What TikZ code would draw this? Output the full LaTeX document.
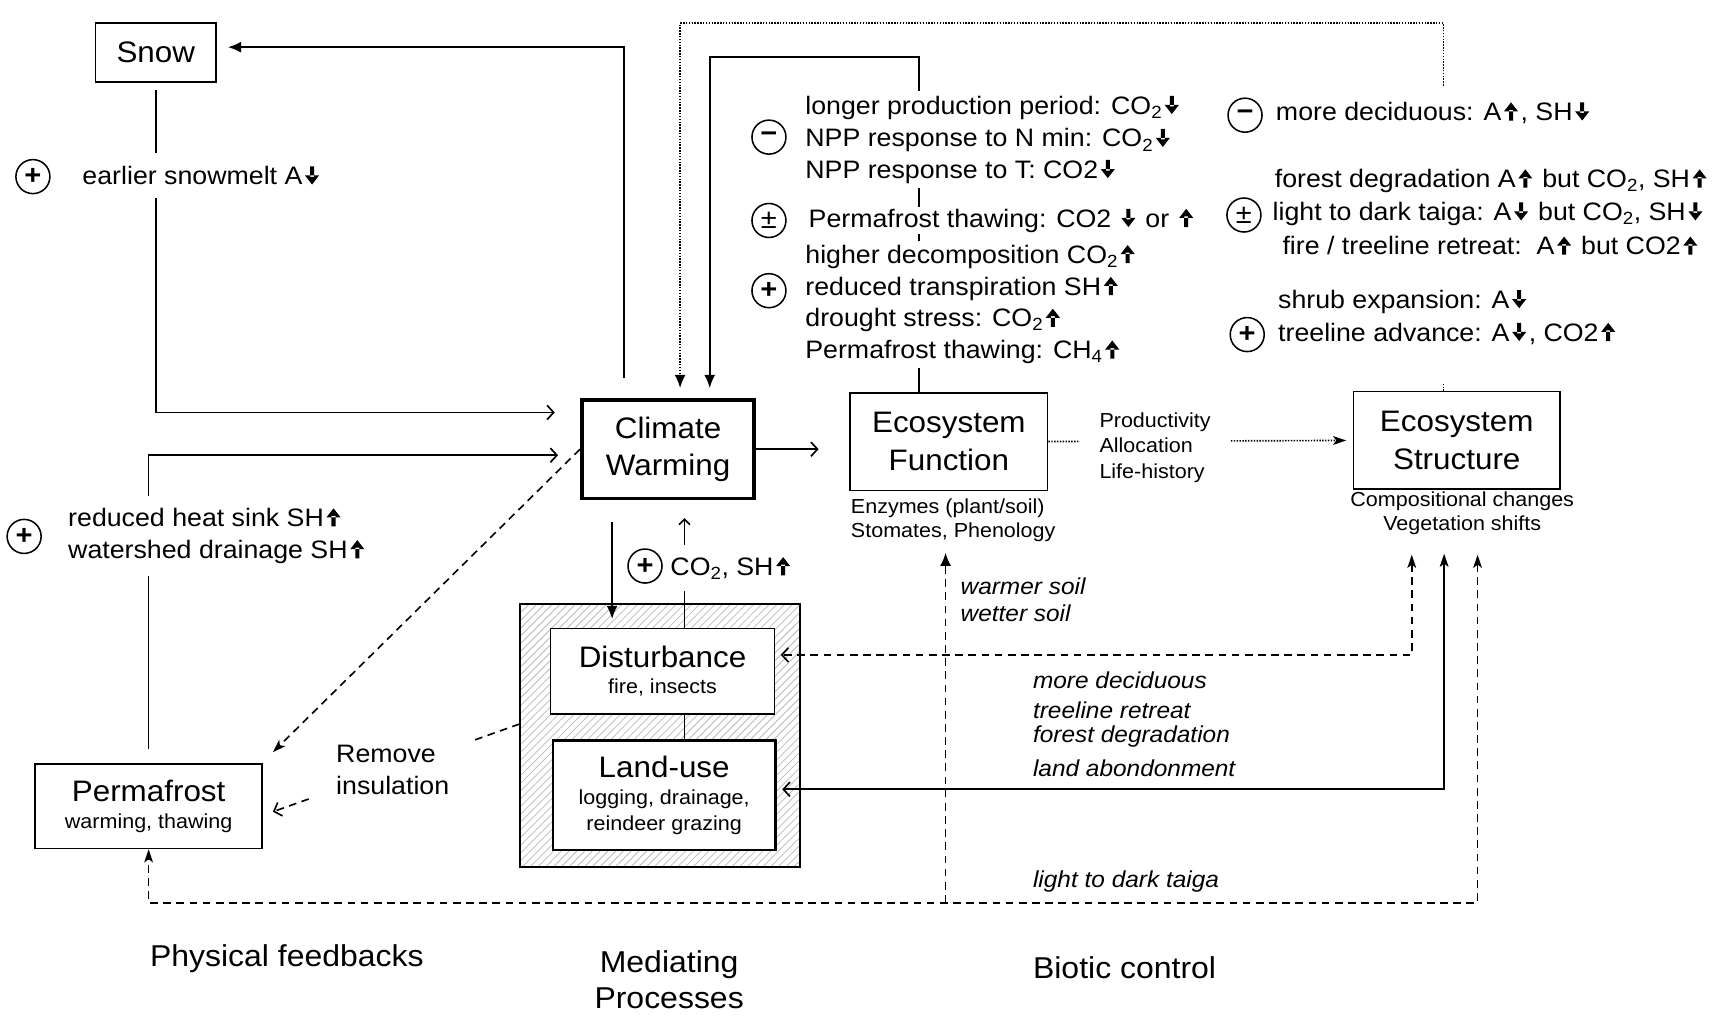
\documentclass[tikz,border=0pt]{standalone}
\usepackage{fontspec}
\setmainfont{Liberation Sans}[FakeStretch=1.06]
\usetikzlibrary{arrows.meta,patterns.meta}
\newcommand\arU{\kern0.1em\tikz[baseline=0pt,x=1em,y=1em]\fill[black] (-0.08,0) rectangle (0.08,0.42) (-0.28,0.36) -- (0.28,0.36) -- (0,0.72) -- cycle;\kern0.1em}
\newcommand\arD{\kern0.1em\tikz[baseline=0pt,x=1em,y=1em]\fill[black] (-0.08,0.72) rectangle (0.08,0.3) (-0.28,0.36) -- (0.28,0.36) -- (0,0) -- cycle;\kern0.1em}
\newcommand\sub[1]{\textsubscript{#1}}
\newcommand\smf{\fontsize{18.5}{23}\selectfont}
\tikzset{
  box/.style={draw, line width=1.5pt, inner sep=0pt, align=center, fill=white},
  big/.style={font=\fontsize{27}{34}\selectfont},
  txt/.style={font=\fontsize{23}{29}\selectfont, inner sep=2pt, align=left},
  wtxt/.style={txt, fill=white, inner ysep=4pt},
  sml/.style={font=\fontsize{18.5}{22}\selectfont, inner sep=1pt},
  itx/.style={font=\fontsize{21}{25}\selectfont\itshape, inner sep=1pt, align=left},
  bot/.style={font=\fontsize{27.5}{33}\selectfont, inner sep=0pt, align=center},
  sign/.style={circle, draw, line width=1.4pt, minimum size=31pt, inner sep=0pt, font=\fontsize{25}{25}\selectfont\bfseries},
  arF/.style={-{Latex[length=12pt,width=10pt]}},
  arB/.style={-{Straight Barb[length=6pt,width=13pt]}},
  arSt/.style={-{Stealth[length=12pt,width=8pt,inset=3pt]}},
  dsh/.style={dash pattern=on 7pt off 5pt},
  dot/.style={dash pattern=on 1.3pt off 1.3pt},
}
\begin{document}
\begin{tikzpicture}[x=1pt, y=-1pt, line width=1.5pt, line cap=butt]
\useasboundingbox (0,0) rectangle (1568,927);

% boxes
\node[box, big, minimum width=110pt, minimum height=54pt] (snow) at (142,48) {Snow};
\node[box, big, line width=3.5pt, minimum width=157pt, minimum height=90pt] (cw) at (609,409.5) {Climate\\Warming};
\node[box, big, minimum width=180pt, minimum height=89pt] (ef) at (865,402.5) {Ecosystem\\Function};
\node[box, big, minimum width=188pt, minimum height=89pt] (es) at (1328,401.5) {Ecosystem\\Structure};
\node[draw, line width=1.7pt, minimum width=255pt, minimum height=239pt, inner sep=0pt,
      pattern={Lines[angle=45,distance=5pt,line width=0.7pt]}, pattern color=gray!55] (hatch) at (601.5,670.5) {};
\node[box, big, minimum width=204pt, minimum height=78pt] (dist) at (604,612) {Disturbance\\[-10pt]\smf fire, insects};
\node[box, big, line width=2.2pt, minimum width=203pt, minimum height=100pt] (lu) at (605.5,725) {Land-use\\[-9pt]\smf logging, drainage,\\[-10pt]\smf reindeer grazing};
\node[box, big, minimum width=207pt, minimum height=77pt] (perm) at (135.5,735) {Permafrost\\[-10pt]\smf warming, thawing};

\node[sml, align=left, anchor=west] (efsub) at (774,474.5) {Enzymes (plant/soil)\\Stomates, Phenology};
\node[sml, align=center] (essub) at (1333,468) {Compositional changes\\Vegetation shifts};

% connectors
\draw[arF, shorten <=18pt, shorten >=10pt] ([xshift=-40pt]cw.north) |- ([yshift=5pt]snow.east);
\draw[arB, shorten <=6pt, shorten >=23pt] (snow.south) |- ([yshift=33.5pt]cw.west);
\draw[arB, shorten <=13pt, shorten >=20pt] (perm.north) |- ([yshift=-5.5pt]cw.west);
\draw[dsh, arSt] (cw.west) -- ([xshift=9pt,yshift=10pt]perm.north east);
\draw[dsh, arB] ([yshift=10.5pt]hatch.west) -- ([xshift=9pt,yshift=-5pt]perm.east);
\draw[arB, shorten >=28pt] (cw.east) -- (cw.east -| ef.west);
\draw[dot, arSt, shorten >=6pt] (ef.east) -- (es.west);
\draw[dot, arF, shorten >=9pt] ([xshift=-12pt]es.north) -- ++(0,-335) -| ([xshift=11pt]cw.north);
\draw[arF, shorten >=9pt] ([xshift=-27pt]ef.north) -- ++(0,-305) -| ([xshift=38pt]cw.north);
\draw[arF, shorten <=20pt, shorten >=8pt] ([xshift=-51pt]cw.south) -- ([xshift=-51pt]cw.south |- dist.north);
\draw[-{Straight Barb[length=5pt,width=10pt]}, shorten >=16pt] ([xshift=20pt]dist.north) -- ([xshift=20pt]dist.north |- cw.south);
\draw ([xshift=20pt]dist.south) -- ([xshift=20pt]dist.south |- lu.north);
\draw[dsh, {Stealth[length=12pt,width=8pt,inset=3pt]}-{Straight Barb[length=6pt,width=13pt]}, shorten <=59pt, shorten >=5pt] ([xshift=-41pt]es.south) |- ([yshift=15pt]dist.east);
\draw[{Stealth[length=12pt,width=8pt,inset=3pt]}-{Straight Barb[length=6pt,width=13pt]}, shorten <=58pt, shorten >=5pt] ([xshift=-11.5pt]es.south) |- ([yshift=5.5pt]lu.east);
\draw[dsh, {Stealth[length=12pt,width=8pt,inset=3pt]}-{Stealth[length=12pt,width=8pt,inset=3pt]}, shorten <=59pt] ([xshift=19pt]es.south) -- ++(0,376.3) -| (perm.south);
\coordinate (jn) at (862,823);
\draw[dsh, arF, shorten >=8pt] (jn) -- (jn |- efsub.south);

\fill[white] (1300,78) rectangle (1332,348);

% signs
\node[sign] (s1) at (30,161) {+};
\node[sign] (s2) at (22,489) {+};
\node[sign] (s3) at (588,516) {+};
\node[sign] (m1) at (701,125) {−};
\node[sign] (m2) at (701,201) {\mdseries ±};
\node[sign] (m3) at (701,265) {+};
\node[sign] (r1) at (1135,105) {−};
\node[sign] (r2) at (1134,196) {\mdseries ±};
\node[sign] (r3) at (1137,305) {+};

% left labels
\node[wtxt, anchor=west, inner ysep=12pt] (l1) at (73,160) {earlier snowmelt A\arD};
\node[wtxt, anchor=west, inner ysep=11pt] (l2) at (60,488.5) {reduced heat sink SH\arU\\watershed drainage SH\arU};
\node[wtxt, inner xsep=22pt] (l3) at (358,702) {Remove\\insulation};
\node[wtxt, anchor=west, inner xsep=1pt, inner ysep=11pt] (l4) at (610,518) {CO\sub{2}, SH\arU};

% middle group
\node[wtxt, anchor=west] (a1) at (732,98) {longer production period: CO\sub{2}\arD};
\node[wtxt, anchor=west] (a2) at (732,128) {NPP response to N min: CO\sub{2}\arD};
\node[wtxt, anchor=west] (a3) at (732,156.5) {NPP response to T: CO2\arD};
\node[wtxt, anchor=west, inner ysep=2pt] (a4) at (735,201) {Permafrost thawing: CO2 \arD{} or \arU};
\node[wtxt, anchor=west] (a5) at (732,234) {higher decomposition CO\sub{2}\arU};
\node[wtxt, anchor=west] (a6) at (732,263) {reduced transpiration SH\arU};
\node[wtxt, anchor=west] (a7) at (732,292) {drought stress: CO\sub{2}\arU};
\node[wtxt, anchor=west] (a8) at (732,321) {Permafrost thawing: CH\sub{4}\arU};

% right group
\node[wtxt, anchor=west] (b1) at (1161,103) {more deciduous: A\arU, SH\arD};
\node[wtxt, anchor=west] (b2) at (1160,165) {forest degradation A\arU{} but CO\sub{2}, SH\arU};
\node[wtxt, anchor=west] (b3) at (1158,195) {light to dark taiga: A\arD{} but CO\sub{2}, SH\arD};
\node[wtxt, anchor=west] (b4) at (1167,224) {fire / treeline retreat:\ \ A\arU{} but CO2\arU};
\node[wtxt, anchor=west] (b5) at (1163,275) {shrub expansion: A\arD};
\node[wtxt, anchor=west] (b6) at (1163,304) {treeline advance: A\arD, CO2\arU};

% connector labels
\node[sml, fill=white, align=left, inner xsep=18pt, font=\fontsize{18.5}{23}\selectfont] (prod) at (1053,408) {Productivity\\Allocation\\Life-history};
\node[itx, anchor=west] (w1) at (874,546.5) {warmer soil\\wetter soil};
\node[itx, anchor=west] (i1) at (940,620) {more deciduous};
\node[itx, anchor=west] (i2) at (940,647.5) {treeline retreat};
\node[itx, anchor=west] (i3) at (940,671) {forest degradation};
\node[itx, anchor=west] (i4) at (940,700) {land abondonment};
\node[itx, anchor=west] (i5) at (940,804) {light to dark taiga};

% bottom headings
\node[bot, anchor=west] (h1) at (136,874) {Physical feedbacks};
\node[bot] (h2) at (610,893) {Mediating\\Processes};
\node[bot, anchor=west] (h3) at (941,882) {Biotic control};
\end{tikzpicture}
\end{document}
